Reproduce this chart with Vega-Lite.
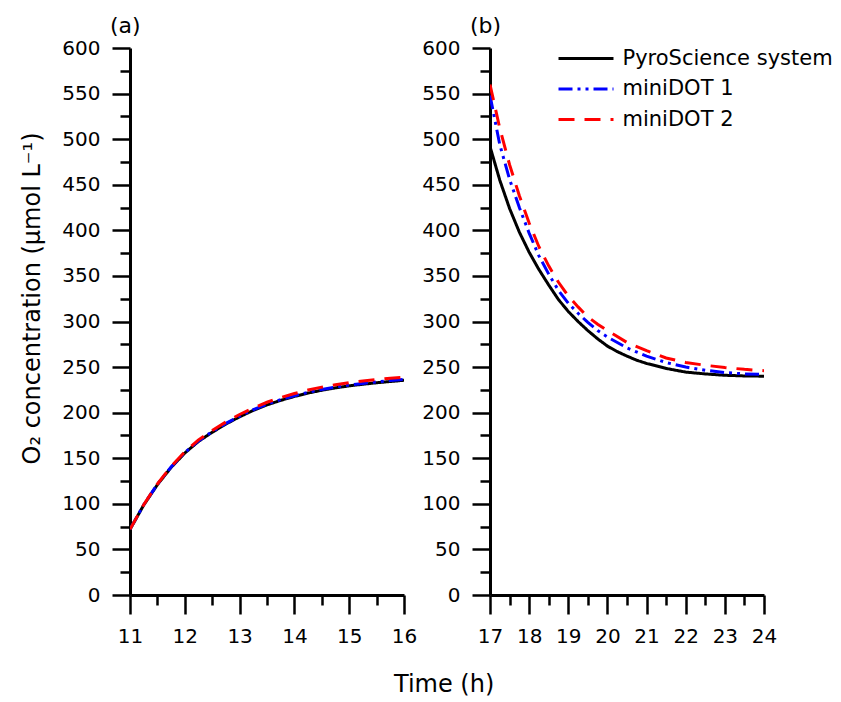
{
  "$schema": "https://vega.github.io/schema/vega-lite/v6.json",
  "background": "white",
  "padding": {"left": 20, "top": 15, "right": 5, "bottom": 0},
  "config": {
    "view": {"stroke": null},
    "font": "DejaVu Sans",
    "axis": {
      "grid": false,
      "domainColor": "black",
      "domainWidth": 3,
      "tickColor": "black",
      "tickWidth": 2.5,
      "labelFont": "DejaVu Sans",
      "labelFontSize": 20,
      "labelColor": "black",
      "titleFont": "DejaVu Sans",
      "titleFontSize": 24,
      "titleFontWeight": "normal",
      "titleColor": "black",
      "labelPadding": 12,
      "labelFlush": false,
      "labelOverlap": false
    },
    "title": {"font": "DejaVu Sans", "fontWeight": "normal", "color": "black", "fontSize": 22}
  },
  "datasets": {
    "a": [
      {"t": 11, "o2": 72, "series": "PyroScience system"},
      {"t": 11.25, "o2": 98.6, "series": "PyroScience system"},
      {"t": 11.5, "o2": 121, "series": "PyroScience system"},
      {"t": 11.75, "o2": 139.9, "series": "PyroScience system"},
      {"t": 12, "o2": 155.7, "series": "PyroScience system"},
      {"t": 12.25, "o2": 168.5, "series": "PyroScience system"},
      {"t": 12.5, "o2": 178.5, "series": "PyroScience system"},
      {"t": 12.75, "o2": 187.5, "series": "PyroScience system"},
      {"t": 13, "o2": 195.5, "series": "PyroScience system"},
      {"t": 13.25, "o2": 202.5, "series": "PyroScience system"},
      {"t": 13.5, "o2": 208.5, "series": "PyroScience system"},
      {"t": 13.75, "o2": 213.5, "series": "PyroScience system"},
      {"t": 14, "o2": 217.8, "series": "PyroScience system"},
      {"t": 14.25, "o2": 221.5, "series": "PyroScience system"},
      {"t": 14.5, "o2": 224.6, "series": "PyroScience system"},
      {"t": 14.75, "o2": 227.2, "series": "PyroScience system"},
      {"t": 15, "o2": 229.4, "series": "PyroScience system"},
      {"t": 15.25, "o2": 231.2, "series": "PyroScience system"},
      {"t": 15.5, "o2": 232.8, "series": "PyroScience system"},
      {"t": 15.75, "o2": 234.2, "series": "PyroScience system"},
      {"t": 16, "o2": 235.5, "series": "PyroScience system"},
      {"t": 11, "o2": 72, "series": "miniDOT 1"},
      {"t": 11.25, "o2": 99, "series": "miniDOT 1"},
      {"t": 11.5, "o2": 121.5, "series": "miniDOT 1"},
      {"t": 11.75, "o2": 140.4, "series": "miniDOT 1"},
      {"t": 12, "o2": 156.2, "series": "miniDOT 1"},
      {"t": 12.25, "o2": 169, "series": "miniDOT 1"},
      {"t": 12.5, "o2": 179.2, "series": "miniDOT 1"},
      {"t": 12.75, "o2": 188.2, "series": "miniDOT 1"},
      {"t": 13, "o2": 196.2, "series": "miniDOT 1"},
      {"t": 13.25, "o2": 203.2, "series": "miniDOT 1"},
      {"t": 13.5, "o2": 209.3, "series": "miniDOT 1"},
      {"t": 13.75, "o2": 214.3, "series": "miniDOT 1"},
      {"t": 14, "o2": 218.6, "series": "miniDOT 1"},
      {"t": 14.25, "o2": 222.3, "series": "miniDOT 1"},
      {"t": 14.5, "o2": 225.4, "series": "miniDOT 1"},
      {"t": 14.75, "o2": 228, "series": "miniDOT 1"},
      {"t": 15, "o2": 230.3, "series": "miniDOT 1"},
      {"t": 15.25, "o2": 232.1, "series": "miniDOT 1"},
      {"t": 15.5, "o2": 233.8, "series": "miniDOT 1"},
      {"t": 15.75, "o2": 235.2, "series": "miniDOT 1"},
      {"t": 16, "o2": 236.5, "series": "miniDOT 1"},
      {"t": 11, "o2": 72, "series": "miniDOT 2"},
      {"t": 11.25, "o2": 99, "series": "miniDOT 2"},
      {"t": 11.5, "o2": 121.8, "series": "miniDOT 2"},
      {"t": 11.75, "o2": 141, "series": "miniDOT 2"},
      {"t": 12, "o2": 157, "series": "miniDOT 2"},
      {"t": 12.25, "o2": 170.2, "series": "miniDOT 2"},
      {"t": 12.5, "o2": 180.5, "series": "miniDOT 2"},
      {"t": 12.75, "o2": 189.8, "series": "miniDOT 2"},
      {"t": 13, "o2": 198, "series": "miniDOT 2"},
      {"t": 13.25, "o2": 205.2, "series": "miniDOT 2"},
      {"t": 13.5, "o2": 211.4, "series": "miniDOT 2"},
      {"t": 13.75, "o2": 216.6, "series": "miniDOT 2"},
      {"t": 14, "o2": 221, "series": "miniDOT 2"},
      {"t": 14.25, "o2": 224.8, "series": "miniDOT 2"},
      {"t": 14.5, "o2": 228, "series": "miniDOT 2"},
      {"t": 14.75, "o2": 230.7, "series": "miniDOT 2"},
      {"t": 15, "o2": 232.9, "series": "miniDOT 2"},
      {"t": 15.25, "o2": 234.8, "series": "miniDOT 2"},
      {"t": 15.5, "o2": 236.4, "series": "miniDOT 2"},
      {"t": 15.75, "o2": 237.8, "series": "miniDOT 2"},
      {"t": 16, "o2": 239, "series": "miniDOT 2"}
    ],
    "b": [
      {"t": 17, "o2": 492, "series": "PyroScience system"},
      {"t": 17.25, "o2": 455, "series": "PyroScience system"},
      {"t": 17.5, "o2": 424, "series": "PyroScience system"},
      {"t": 17.75, "o2": 398, "series": "PyroScience system"},
      {"t": 18, "o2": 376, "series": "PyroScience system"},
      {"t": 18.25, "o2": 357, "series": "PyroScience system"},
      {"t": 18.5, "o2": 340, "series": "PyroScience system"},
      {"t": 18.75, "o2": 324, "series": "PyroScience system"},
      {"t": 19, "o2": 311, "series": "PyroScience system"},
      {"t": 19.25, "o2": 300, "series": "PyroScience system"},
      {"t": 19.5, "o2": 290, "series": "PyroScience system"},
      {"t": 19.75, "o2": 281, "series": "PyroScience system"},
      {"t": 20, "o2": 273, "series": "PyroScience system"},
      {"t": 20.25, "o2": 267, "series": "PyroScience system"},
      {"t": 20.5, "o2": 262, "series": "PyroScience system"},
      {"t": 20.75, "o2": 257.5, "series": "PyroScience system"},
      {"t": 21, "o2": 254, "series": "PyroScience system"},
      {"t": 21.5, "o2": 248.5, "series": "PyroScience system"},
      {"t": 22, "o2": 244.5, "series": "PyroScience system"},
      {"t": 22.5, "o2": 242.5, "series": "PyroScience system"},
      {"t": 23, "o2": 241, "series": "PyroScience system"},
      {"t": 23.5, "o2": 240.3, "series": "PyroScience system"},
      {"t": 24, "o2": 240, "series": "PyroScience system"},
      {"t": 17, "o2": 548, "series": "miniDOT 1"},
      {"t": 17.25, "o2": 494, "series": "miniDOT 1"},
      {"t": 17.5, "o2": 456, "series": "miniDOT 1"},
      {"t": 17.75, "o2": 425, "series": "miniDOT 1"},
      {"t": 18, "o2": 397, "series": "miniDOT 1"},
      {"t": 18.25, "o2": 372, "series": "miniDOT 1"},
      {"t": 18.5, "o2": 352, "series": "miniDOT 1"},
      {"t": 18.75, "o2": 334, "series": "miniDOT 1"},
      {"t": 19, "o2": 320, "series": "miniDOT 1"},
      {"t": 19.25, "o2": 309, "series": "miniDOT 1"},
      {"t": 19.5, "o2": 299, "series": "miniDOT 1"},
      {"t": 19.75, "o2": 290, "series": "miniDOT 1"},
      {"t": 20, "o2": 283, "series": "miniDOT 1"},
      {"t": 20.5, "o2": 271, "series": "miniDOT 1"},
      {"t": 21, "o2": 262, "series": "miniDOT 1"},
      {"t": 21.5, "o2": 255, "series": "miniDOT 1"},
      {"t": 22, "o2": 250, "series": "miniDOT 1"},
      {"t": 22.5, "o2": 246.5, "series": "miniDOT 1"},
      {"t": 23, "o2": 244, "series": "miniDOT 1"},
      {"t": 23.5, "o2": 242.5, "series": "miniDOT 1"},
      {"t": 24, "o2": 242, "series": "miniDOT 1"},
      {"t": 17, "o2": 560, "series": "miniDOT 2"},
      {"t": 17.25, "o2": 512, "series": "miniDOT 2"},
      {"t": 17.5, "o2": 472, "series": "miniDOT 2"},
      {"t": 17.75, "o2": 438, "series": "miniDOT 2"},
      {"t": 18, "o2": 408, "series": "miniDOT 2"},
      {"t": 18.25, "o2": 382, "series": "miniDOT 2"},
      {"t": 18.5, "o2": 361, "series": "miniDOT 2"},
      {"t": 18.75, "o2": 343, "series": "miniDOT 2"},
      {"t": 19, "o2": 328, "series": "miniDOT 2"},
      {"t": 19.25, "o2": 316, "series": "miniDOT 2"},
      {"t": 19.5, "o2": 305, "series": "miniDOT 2"},
      {"t": 19.75, "o2": 297, "series": "miniDOT 2"},
      {"t": 20, "o2": 290, "series": "miniDOT 2"},
      {"t": 20.5, "o2": 277, "series": "miniDOT 2"},
      {"t": 21, "o2": 268, "series": "miniDOT 2"},
      {"t": 21.5, "o2": 260, "series": "miniDOT 2"},
      {"t": 22, "o2": 255, "series": "miniDOT 2"},
      {"t": 22.5, "o2": 252, "series": "miniDOT 2"},
      {"t": 23, "o2": 249.5, "series": "miniDOT 2"},
      {"t": 23.5, "o2": 247.5, "series": "miniDOT 2"},
      {"t": 24, "o2": 246, "series": "miniDOT 2"}
    ]
  },
  "title": {"text": "Time (h)", "orient": "bottom", "anchor": "start", "frame": "group", "fontSize": 24, "offset": 27, "dx": 264},
  "spacing": 4,
  "hconcat": [
    {
      "width": 274,
      "height": 547,
      "data": {"name": "a"},
      "title": {"text": "(a)", "anchor": "start", "frame": "group", "dx": -20, "fontSize": 22, "offset": 0},
      "mark": {"type": "line", "strokeWidth": 3, "clip": true},
      "encoding": {
        "x": {"field": "t", "type": "quantitative",
              "scale": {"domain": [11, 16], "nice": false, "zero": false},
              "axis": {"title": null, "values": [11, 11.5, 12, 12.5, 13, 13.5, 14, 14.5, 15, 15.5, 16],
                       "labelExpr": "datum.value % 1 == 0 ? format(datum.value, 'd') : ''",
                       "tickSize": {"condition": {"test": "datum.value % 1 == 0", "value": 19}, "value": 10}}},
        "y": {"field": "o2", "type": "quantitative",
              "scale": {"domain": [0, 600], "nice": false},
              "axis": {"title": "O₂ concentration (μmol L⁻¹)", "titlePadding": 17, "titleY": 250,
                       "values": [0,25,50,75,100,125,150,175,200,225,250,275,300,325,350,375,400,425,450,475,500,525,550,575,600],
                       "labelExpr": "datum.value % 50 == 0 ? datum.label : ''",
                       "tickSize": {"condition": {"test": "datum.value % 50 == 0", "value": 18}, "value": 10}}},
        "color": {"field": "series", "type": "nominal",
                  "scale": {"domain": ["PyroScience system", "miniDOT 1", "miniDOT 2"], "range": ["#000000", "#0000ff", "#ff0000"]},
                  "legend": {"title": null, "orient": "none", "legendX": 440.5, "legendY": -5,
                             "symbolType": "M-2,0H2", "symbolSize": 756, "symbolStrokeWidth": 3,
                             "labelFont": "DejaVu Sans", "labelFontSize": 21, "labelColor": "black", "labelLimit": 400,
                             "rowPadding": 4.5, "labelOffset": 21}},
        "strokeDash": {"field": "series", "type": "nominal",
                       "scale": {"domain": ["PyroScience system", "miniDOT 1", "miniDOT 2"], "range": [[1, 0], [14, 5, 3, 5, 3, 5], [16, 10]]},
                       "legend": null}
      }
    },
    {
      "width": 274,
      "height": 547,
      "data": {"name": "b"},
      "title": {"text": "(b)", "anchor": "start", "frame": "group", "dx": -20, "fontSize": 22, "offset": 0},
      "mark": {"type": "line", "strokeWidth": 3, "clip": true},
      "encoding": {
        "x": {"field": "t", "type": "quantitative",
              "scale": {"domain": [17, 24], "nice": false, "zero": false},
              "axis": {"title": null, "values": [17, 17.5, 18, 18.5, 19, 19.5, 20, 20.5, 21, 21.5, 22, 22.5, 23, 23.5, 24],
                       "labelExpr": "datum.value % 1 == 0 ? format(datum.value, 'd') : ''",
                       "tickSize": {"condition": {"test": "datum.value % 1 == 0", "value": 19}, "value": 10}}},
        "y": {"field": "o2", "type": "quantitative",
              "scale": {"domain": [0, 600], "nice": false},
              "axis": {"title": null,
                       "values": [0,25,50,75,100,125,150,175,200,225,250,275,300,325,350,375,400,425,450,475,500,525,550,575,600],
                       "labelExpr": "datum.value % 50 == 0 ? datum.label : ''",
                       "tickSize": {"condition": {"test": "datum.value % 50 == 0", "value": 18}, "value": 10}}},
        "color": {"field": "series", "type": "nominal",
                  "scale": {"domain": ["PyroScience system", "miniDOT 1", "miniDOT 2"], "range": ["#000000", "#0000ff", "#ff0000"]}},
        "strokeDash": {"field": "series", "type": "nominal",
                       "scale": {"domain": ["PyroScience system", "miniDOT 1", "miniDOT 2"], "range": [[1, 0], [14, 5, 3, 5, 3, 5], [16, 10]]},
                       "legend": null}
      }
    }
  ]
}
